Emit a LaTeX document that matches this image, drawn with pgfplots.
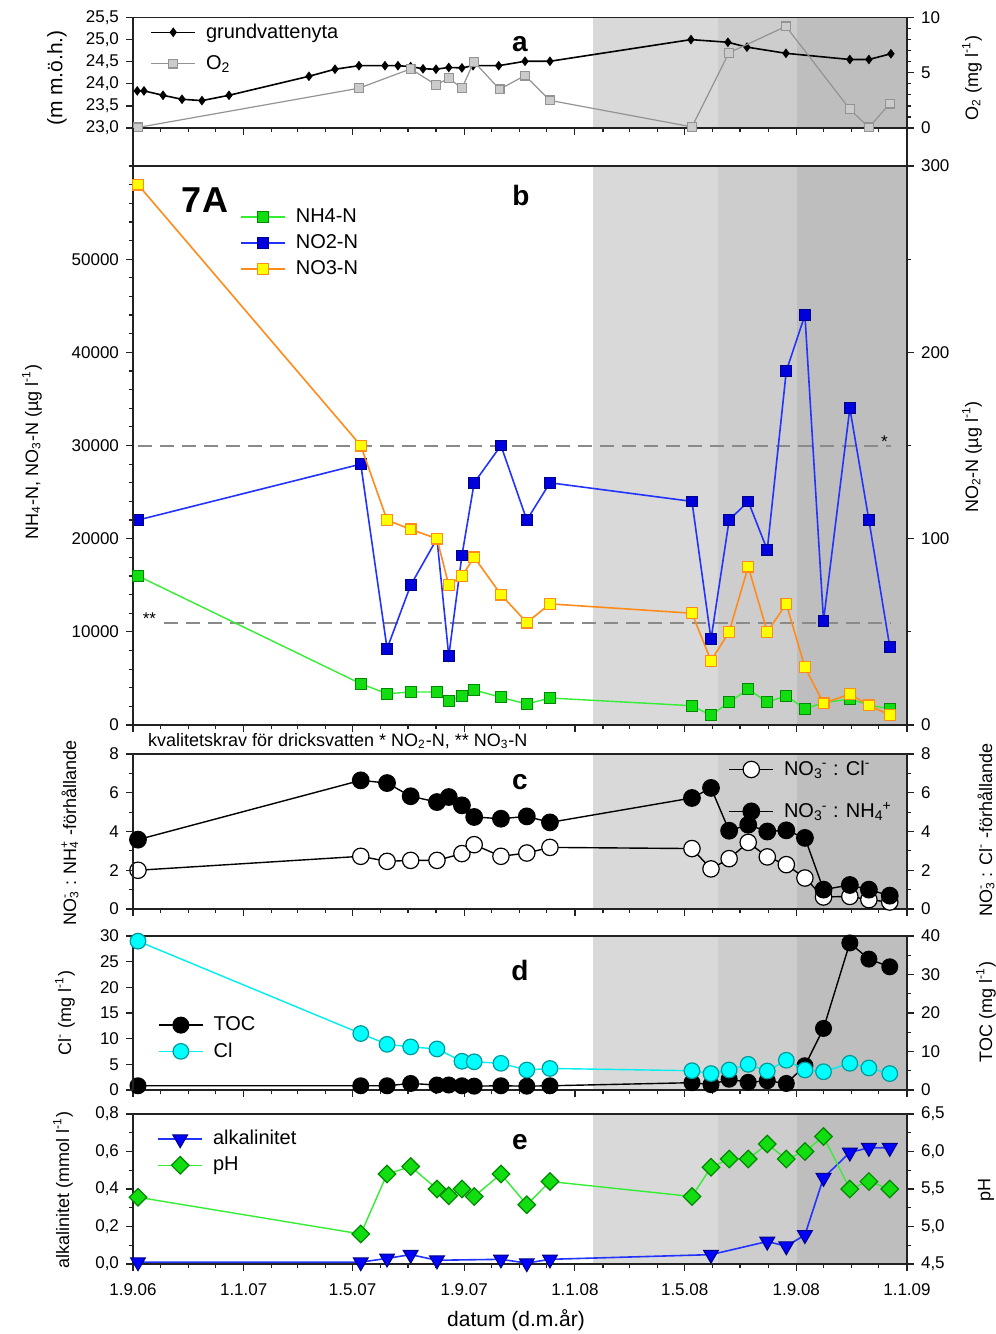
\documentclass[border=0pt]{standalone}
\usepackage{fontspec}
\setmainfont{Liberation Sans}
\usepackage{pgfplots}
\pgfplotsset{compat=1.18}

\definecolor{axc}{HTML}{222222}
\definecolor{shA}{HTML}{D9D9D9}
\definecolor{shB}{HTML}{CDCDCD}
\definecolor{shC}{HTML}{BEBEBE}
\definecolor{o2line}{HTML}{939393}
\definecolor{o2fill}{HTML}{CBCBCB}
\definecolor{gline}{HTML}{33EE33}
\definecolor{gfill}{HTML}{11DD11}
\definecolor{gedge}{HTML}{008800}
\definecolor{bline}{HTML}{2233FF}
\definecolor{bfill}{HTML}{0000DD}
\definecolor{bedge}{HTML}{000088}
\definecolor{oline}{HTML}{FF8C1A}
\definecolor{ofill}{HTML}{FFFF00}
\definecolor{cline}{HTML}{00EEEE}
\definecolor{cfill}{HTML}{00FFFF}
\definecolor{cedge}{HTML}{009999}
\definecolor{dashc}{HTML}{8A8A8A}

\newcommand\tickf{\fontsize{8.5}{10}\selectfont}
\newcommand\labf{\fontsize{9}{11}\selectfont}
\newcommand\legf{\fontsize{10}{12}\selectfont}
\newcommand\ssup[2]{\rlap{\textsuperscript{#2}}\textsubscript{#1}}
\newcommand\sbsp[2]{\textsubscript{#1}\kern-0.05em\textsuperscript{#2}}

\tikzset{
 sGW/.style={black, line width=0.8pt, mark=diamond*, mark size=1.8pt, mark options={solid, fill=black, draw=black}},
 sO2/.style={o2line, line width=0.6pt, mark=square*, mark size=2.2pt, mark options={solid, draw=o2line, fill=o2fill, line width=0.6pt}},
 sNH/.style={gline, line width=0.7pt, mark=square*, mark size=2.7pt, mark options={solid, draw=gedge, fill=gfill, line width=0.5pt}},
 sNO2/.style={bline, line width=0.8pt, mark=square*, mark size=2.7pt, mark options={solid, draw=bedge, fill=bfill, line width=0.5pt}},
 sNO3/.style={oline, line width=0.8pt, mark=square*, mark size=2.7pt, mark options={solid, draw=oline, fill=ofill, line width=0.6pt}},
 sOpen/.style={black, line width=0.7pt, mark=*, mark size=4.1pt, mark options={solid, draw=black, fill=white, line width=0.6pt}},
 sFull/.style={black, line width=0.7pt, mark=*, mark size=4.1pt, mark options={solid, draw=black, fill=black}},
 sTOC/.style={black, line width=0.7pt, mark=*, mark size=3.9pt, mark options={solid, draw=black, fill=black}},
 sCl/.style={cline, line width=0.7pt, mark=*, mark size=3.9pt, mark options={solid, draw=cedge, fill=cfill, line width=0.6pt}},
 sAlk/.style={bline, line width=0.8pt, mark=triangle*, mark size=4.3pt, mark options={solid, rotate=180, draw=bedge, fill=blue, line width=0.5pt}},
 sPH/.style={gline, line width=0.7pt, mark=square*, mark size=3.1pt, mark options={solid, rotate=45, draw=gedge, fill=gfill, line width=0.6pt}},
}

\pgfplotsset{
 panel/.style={scale only axis, width=387pt, xmin=0, xmax=853, clip=false,
   axis line style={axc, line width=0.8pt},
   tick style={axc, line width=0.6pt},
   major tick length=3.5pt, minor tick length=2.2pt,
   tick align=outside,
   xtick={0,122,242,365,487,608,731,853},
   minor xtick={30,61,91,153,181,212,273,303,334,395,426,456,518,547,578,639,669,700,761,792,822},
   xticklabels={},
   tick label style={font=\tickf},
   xticklabel style={yshift=-3pt},
   scaled y ticks=false,
   /pgf/number format/assume math mode=true,
   /pgf/number format/1000 sep={},
 },
 first/.style={panel, xtick pos=lower, axis on top},
 second/.style={panel, axis x line=none, xtick=\empty, minor xtick={}},
 commanum/.style={yticklabel style={/pgf/number format/.cd, fixed, fixed zerofill, precision=1, use comma}},
 leg/.style={legend style={draw=none, fill=none, font=\legf, cells={anchor=west}, inner sep=0pt,
     /tikz/every odd column/.append style={column sep=3pt}},
   legend image code/.code={\draw[mark repeat=2,mark phase=2,##1] plot coordinates {(0pt,0pt)(11pt,0pt)(22pt,0pt)};}},
}

\begin{document}
\begin{tikzpicture}[x=0.5pt,y=-0.5pt]
\path[use as bounding box] (0,0) rectangle (996,1334);

% ---------------- panel a
\begin{axis}[first, at={(66.5pt,-64pt)}, anchor=south west, height=55.25pt,
  ymin=23, ymax=25.5, ytick={23,23.5,24,24.5,25,25.5}, ytick pos=lower, commanum]
\addplot[fill=shA, draw=none, forget plot] coordinates {(507,23)(645,23)(645,25.5)(507,25.5)};
\addplot[fill=shB, draw=none, forget plot] coordinates {(645,23)(732,23)(732,25.5)(645,25.5)};
\addplot[fill=shC, draw=none, forget plot] coordinates {(732,23)(853,23)(853,25.5)(732,25.5)};
\addplot[sGW] coordinates {(4.7,23.84)(12.1,23.84)(33.1,23.74)(54.0,23.65)(76.0,23.62)(105.8,23.74)(193.9,24.17)(222.6,24.33)(249,24.41)(277.7,24.41)(292,24.41)(306,24.39)(319.6,24.34)(333.9,24.33)(348,24.37)(362.5,24.36)(374.7,24.41)(403,24.41)(432,24.51)(459.5,24.51)(614.9,25.0)(655.6,24.94)(676.6,24.83)(719.6,24.69)(790,24.55)(811,24.55)(835.3,24.68)};
\end{axis}
\begin{axis}[second, at={(66.5pt,-64pt)}, anchor=south west, height=55.25pt,
  ymin=0, ymax=10, ytick={0,5,10}, minor ytick={1,2,3,4,6,7,8,9}, axis y line*=right,
  leg, legend style={at={(0.022,0.985)}, anchor=north west, row sep=3pt}]
\addlegendimage{sGW}\addlegendentry{grundvattenyta}
\addplot[sO2] coordinates {(5.5,0.05)(249,3.6)(306,5.35)(334,3.9)(348,4.5)(362.5,3.6)(375.8,6.0)(404,3.5)(432,4.75)(459.5,2.5)(616,0.1)(656.7,6.8)(719.6,9.2)(790,1.7)(811,0.05)(834,2.2)};
\addlegendentry{O\textsubscript{2}}
\end{axis}
\draw[axc, line width=0.8pt] (133,128) -- (133,166);
\draw[axc, line width=0.8pt] (907,128) -- (907,166);

% ---------------- panel b
\begin{axis}[first, at={(66.5pt,-362.5pt)}, anchor=south west, height=279.5pt,
  ymin=0, ymax=300, ytick={0,100,200,300}, minor ytick={50,150,250}, ytick pos=upper]
\addplot[fill=shA, draw=none, forget plot] coordinates {(507,0)(645,0)(645,300)(507,300)};
\addplot[fill=shB, draw=none, forget plot] coordinates {(645,0)(732,0)(732,300)(645,300)};
\addplot[fill=shC, draw=none, forget plot] coordinates {(732,0)(853,0)(853,300)(732,300)};
\addplot[dashc, line width=1pt, dash pattern=on 7pt off 4pt] coordinates {(5,150)(835,150)};
\addplot[dashc, line width=1pt, dash pattern=on 7pt off 4pt] coordinates {(34,55)(835,55)};
\node[font=\tickf] at (axis cs:828,152) {*};
\node[font=\tickf, anchor=west] at (axis cs:3,57) {**};
\addplot[sNO2] coordinates {(5.5,110)(251,140)(280,41)(306,75)(335,100)(348,37)(362.5,91)(376,130)(405.5,150)(434,110)(459.5,130)(616,120)(637,46)(657,110)(678,120)(699,94)(720,190)(740.5,220)(761,56)(790,170)(811,110)(834,42)};
\end{axis}
\begin{axis}[second, at={(66.5pt,-362.5pt)}, anchor=south west, height=279.5pt,
  ymin=0, ymax=60000, ytick={0,10000,20000,30000,40000,50000}, minor ytick={0,2000,...,60000}, axis y line*=left,
  leg, legend style={at={(0.138,0.932)}, anchor=north west, row sep=0.6pt}]
\addplot[sNH] coordinates {(5.5,16000)(251,4430)(280,3360)(306,3540)(335,3540)(348,2580)(362.5,3080)(376,3760)(405.5,2970)(434,2250)(459.5,2900)(616,2070)(637,1040)(657,2440)(678,3860)(699,2440)(720,3150)(740.5,1720)(761,2400)(790,2790)(811,2150)(834,1720)};
\addlegendentry{NH4-N}
\addlegendimage{sNO2}\addlegendentry{NO2-N}
\addplot[sNO3] coordinates {(5.5,58000)(251,30000)(280,22000)(306,21000)(335,20000)(348,15000)(362.5,16000)(376,18000)(405.5,14000)(434,11000)(459.5,13000)(616,12000)(637,6900)(657,10000)(678,17000)(699,10000)(720,13000)(740.5,6200)(761,2330)(790,3330)(811,2110)(834,1070)};
\addlegendentry{NO3-N}
\end{axis}
\node[font=\labf, anchor=west] at (141,741) {kvalitetskrav för dricksvatten * NO\textsubscript{2}-N, ** NO\textsubscript{3}-N};

% ---------------- panel c
\begin{axis}[first, at={(66.5pt,-454.5pt)}, anchor=south west, height=77.5pt,
  ymin=0, ymax=8, ytick={0,2,4,6,8}, minor ytick={1,3,5,7}, ytick pos=upper]
\addplot[fill=shA, draw=none, forget plot] coordinates {(507,0)(645,0)(645,8)(507,8)};
\addplot[fill=shB, draw=none, forget plot] coordinates {(645,0)(732,0)(732,8)(645,8)};
\addplot[fill=shC, draw=none, forget plot] coordinates {(732,0)(853,0)(853,8)(732,8)};
\addplot[sOpen] coordinates {(5.5,2.0)(251,2.72)(280,2.46)(306,2.51)(335,2.51)(362.5,2.86)(376,3.32)(405.5,2.72)(434,2.89)(459.5,3.18)(616,3.12)(637,2.07)(657,2.6)(678,3.44)(699,2.69)(720,2.29)(740.5,1.6)(761,0.62)(790,0.65)(811,0.48)(834,0.36)};
\end{axis}
\begin{axis}[second, at={(66.5pt,-454.5pt)}, anchor=south west, height=77.5pt,
  ymin=0, ymax=8, ytick={0,2,4,6,8}, minor ytick={1,3,5,7}, axis y line*=left,
  leg, legend style={at={(0.769,0.985)}, anchor=north west, row sep=8pt}]
\addlegendimage{sOpen}\addlegendentry{NO\sbsp{3}{-} : Cl\textsuperscript{-}}
\addplot[sFull] coordinates {(5.5,3.58)(251,6.64)(280,6.5)(306,5.82)(335,5.52)(348,5.78)(362.5,5.35)(376,4.75)(405.5,4.66)(434,4.78)(459.5,4.47)(616,5.73)(637,6.25)(657,4.04)(678,4.35)(699,4.0)(720,4.06)(740.5,3.67)(761,1.0)(790,1.24)(811,1.0)(834,0.69)};
\addlegendentry{NO\sbsp{3}{-} : NH\sbsp{4}{+}}
\end{axis}

% ---------------- panel d
\begin{axis}[first, at={(66.5pt,-545pt)}, anchor=south west, height=77pt,
  ymin=0, ymax=40, ytick={0,10,20,30,40}, minor ytick={5,15,25,35}, ytick pos=upper]
\addplot[fill=shA, draw=none, forget plot] coordinates {(507,0)(645,0)(645,40)(507,40)};
\addplot[fill=shB, draw=none, forget plot] coordinates {(645,0)(732,0)(732,40)(645,40)};
\addplot[fill=shC, draw=none, forget plot] coordinates {(732,0)(853,0)(853,40)(732,40)};
\addplot[sTOC] coordinates {(5.5,1.1)(251,1.1)(280,1.1)(306,1.7)(335,1.3)(348,1.3)(362.5,1.1)(376,1.0)(405.5,1.1)(434,1.0)(459.5,1.1)(616,1.9)(637,1.4)(657,2.8)(678,2.0)(699,2.4)(720,1.7)(740.5,6.3)(761,16.0)(790,38.2)(811,34.0)(834,32.0)};
\end{axis}
\begin{axis}[second, at={(66.5pt,-545pt)}, anchor=south west, height=77pt,
  ymin=0, ymax=30, ytick={0,5,10,15,20,25,30}, axis y line*=left,
  leg, legend style={at={(0.032,0.505)}, anchor=north west, row sep=0.5pt}]
\addlegendimage{sTOC}\addlegendentry{TOC}
\addplot[sCl] coordinates {(5.5,29.0)(251,11.0)(280,8.9)(306,8.4)(335,8.0)(362.5,5.6)(376,5.5)(405.5,5.2)(434,3.9)(459.5,4.2)(616,3.76)(637,3.2)(657,3.9)(678,5.0)(699,3.7)(720,5.8)(740.5,3.9)(761,3.56)(790,5.2)(811,4.3)(834,3.2)};
\addlegendentry{Cl}
\end{axis}

% ---------------- panel e
\begin{axis}[first, at={(66.5pt,-632pt)}, anchor=south west, height=75pt,
  ymin=0, ymax=0.8, ytick={0,0.2,0.4,0.6,0.8}, minor ytick={0.1,0.3,0.5,0.7}, ytick pos=lower, commanum,
  xticklabels={1.9.06,1.1.07,1.5.07,1.9.07,1.1.08,1.5.08,1.9.08,1.1.09}]
\addplot[fill=shA, draw=none, forget plot] coordinates {(507,0)(645,0)(645,0.8)(507,0.8)};
\addplot[fill=shB, draw=none, forget plot] coordinates {(645,0)(732,0)(732,0.8)(645,0.8)};
\addplot[fill=shC, draw=none, forget plot] coordinates {(732,0)(853,0)(853,0.8)(732,0.8)};
\addplot[sAlk] coordinates {(5.5,0.01)(251,0.01)(280,0.03)(306,0.05)(335,0.02)(405.5,0.025)(434,0.005)(459.5,0.025)(637,0.05)(699,0.12)(720,0.095)(740.5,0.155)(761,0.46)(790,0.595)(811,0.62)(834,0.62)};
\end{axis}
\begin{axis}[second, at={(66.5pt,-632pt)}, anchor=south west, height=75pt,
  ymin=4.5, ymax=6.5, ytick={4.5,5,5.5,6,6.5}, minor ytick={4.75,5.25,5.75,6.25}, axis y line*=right, commanum,
  leg, legend style={at={(0.031,0.92)}, anchor=north west, row sep=0.5pt}]
\addlegendimage{sAlk}\addlegendentry{alkalinitet}
\addplot[sPH] coordinates {(5.5,5.39)(251,4.90)(280,5.70)(306,5.80)(335,5.50)(348,5.41)(362.5,5.50)(376,5.40)(405.5,5.70)(434,5.29)(459.5,5.60)(616,5.40)(637,5.79)(657,5.90)(678,5.90)(699,6.10)(720,5.90)(740.5,6.0)(761,6.20)(790,5.50)(811,5.60)(834,5.50)};
\addlegendentry{pH}
\end{axis}

% ---------------- labels
\node[font=\bfseries\fontsize{14}{16}\selectfont] at (520,44) {a};
\node[font=\bfseries\fontsize{14}{16}\selectfont] at (521,195) {b};
\node[font=\bfseries\fontsize{18}{20}\selectfont] at (205,200) {7A};
\node[font=\bfseries\fontsize{14}{16}\selectfont] at (520,782) {c};
\node[font=\bfseries\fontsize{14}{16}\selectfont] at (520,970) {d};
\node[font=\bfseries\fontsize{14}{16}\selectfont] at (520,1142) {e};

\node[font=\fontsize{10.5}{12}\selectfont, rotate=90] at (57,78) {(m m.ö.h.)};
\node[font=\labf, rotate=90] at (972,78) {O\textsubscript{2} (mg l\textsuperscript{-1})};
\node[font=\labf, rotate=90] at (32,452) {NH\textsubscript{4}-N, NO\textsubscript{3}-N (µg l\textsuperscript{-1})};
\node[font=\labf, rotate=90] at (972,457) {NO\textsubscript{2}-N (µg l\textsuperscript{-1})};
\node[font=\labf, rotate=90] at (70,833) {NO\ssup{3}{-} : NH\ssup{4}{+} -förhållande};
\node[font=\labf, rotate=90] at (986,830) {NO\ssup{3}{-} : Cl\textsuperscript{-} -förhållande};
\node[font=\labf, rotate=90] at (65,1013) {Cl\textsuperscript{-} (mg l\textsuperscript{-1})};
\node[font=\labf, rotate=90] at (986,1012) {TOC (mg l\textsuperscript{-1})};
\node[font=\labf, rotate=90] at (63,1190) {alkalinitet (mmol l\textsuperscript{-1})};
\node[font=\labf, rotate=90] at (986,1190) {pH};
\node[font=\fontsize{10.5}{12}\selectfont] at (516,1320) {datum (d.m.år)};
\end{tikzpicture}
\end{document}
